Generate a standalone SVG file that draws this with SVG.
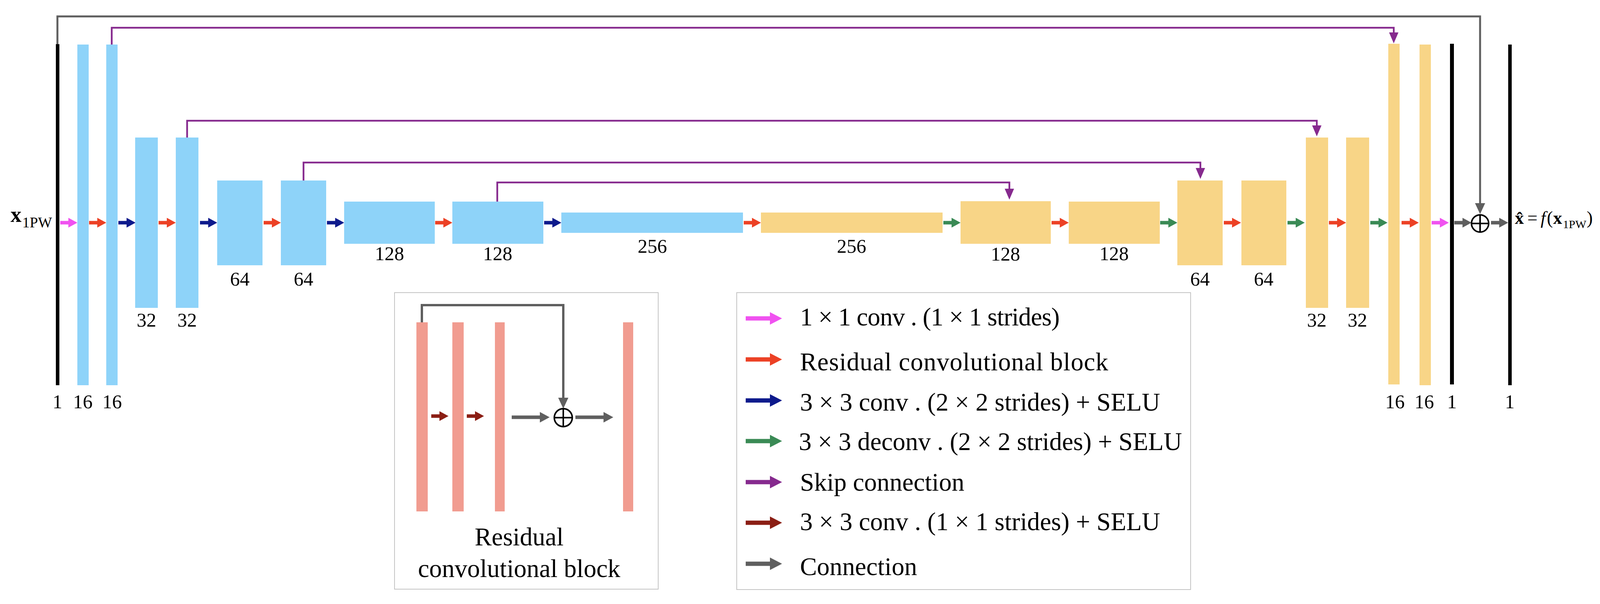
<svg xmlns="http://www.w3.org/2000/svg" xmlns:xlink="http://www.w3.org/1999/xlink" width="4176" height="1546" viewBox="0 0 4176 1546">
<style>
.blue{fill:#8ED3F9}
.yel{fill:#F8D587}
.res{fill:#F19C90}
.blk{fill:#000}
.lbl{font-family:"Liberation Serif",serif;font-size:50px;text-anchor:middle;fill:#000}
.leg{font-family:"Liberation Serif",serif;font-size:65px;fill:#000}
.mth{font-family:"Liberation Serif",serif;font-size:56px;fill:#000}
.sub{font-family:"Liberation Serif",serif;font-size:38px;fill:#000}
.omth{font-family:"Liberation Serif",serif;font-size:46px;fill:#000}
.osub{font-family:"Liberation Serif",serif;font-size:30px;fill:#000}
.box{fill:#fff;stroke:#C4C4C4;stroke-width:2}
.skip{fill:none;stroke:#862A8E;stroke-width:4.5;marker-end:url(#mp)}
.conn{fill:none;stroke:#5F5F5F;stroke-width:5;marker-end:url(#mg)}
.pink{fill:#F052F0}.red{fill:#EC4125}.navy{fill:#0D1A8C}.green{fill:#3A8A55}.purp{fill:#862A8E}.dred{fill:#8B1E14}.gray{fill:#5F5F5F}
.oplus{fill:none;stroke:#000;stroke-width:4}
</style>
<defs>
<path id="ma" d="M0,-4.5 H21 V-12.5 L44,0 L21,12.5 V4.5 H0 Z"/>
<path id="la" d="M0,-5.5 H62 V-16 L93,0 L62,16 V5.5 H0 Z"/>
<path id="ga" d="M0,-4.5 H72 V-13.5 L97,0 L72,13.5 V4.5 H0 Z"/>
<marker id="mp" viewBox="0 0 28 24" refX="0" refY="12" markerWidth="28" markerHeight="24" markerUnits="userSpaceOnUse" orient="auto"><path d="M0,0 L28,12 L0,24 Z" fill="#862A8E"/></marker>
<marker id="mg" viewBox="0 0 28 26" refX="0" refY="13" markerWidth="28" markerHeight="26" markerUnits="userSpaceOnUse" orient="auto"><path d="M0,0 L28,13 L0,26 Z" fill="#5F5F5F"/></marker>
</defs>

<g id="connectors">
<polyline class="conn" points="147,114 147,42 3789,42 3789,520"/>
<polyline class="skip" points="286,114 286,71 3568,71 3568,83"/>
<polyline class="skip" points="479,352 479,309 3371,309 3371,321"/>
<polyline class="skip" points="777,462 777,416 3073,416 3073,430"/>
<polyline class="skip" points="1273,516 1273,467 2584,467 2584,483"/>
<use href="#ma" x="154" y="570" class="pink"/>
<use href="#ma" x="228" y="570" class="red"/>
<use href="#ma" x="303" y="570" class="navy"/>
<use href="#ma" x="406" y="570" class="red"/>
<use href="#ma" x="512" y="570" class="navy"/>
<use href="#ma" x="675" y="570" class="red"/>
<use href="#ma" x="837" y="570" class="navy"/>
<use href="#ma" x="1114" y="570" class="red"/>
<use href="#ma" x="1393" y="570" class="navy"/>
<use href="#ma" x="1904" y="570" class="red"/>
<use href="#ma" x="2415" y="570" class="green"/>
<use href="#ma" x="2692" y="570" class="red"/>
<use href="#ma" x="2970" y="570" class="green"/>
<use href="#ma" x="3133" y="570" class="red"/>
<use href="#ma" x="3296" y="570" class="green"/>
<use href="#ma" x="3402" y="570" class="red"/>
<use href="#ma" x="3508" y="570" class="green"/>
<use href="#ma" x="3588" y="570" class="red"/>
<use href="#ma" x="3665" y="570" class="pink"/>
<use href="#ma" x="3723" y="570" class="gray"/>
<use href="#ma" x="3817" y="570" class="gray"/>
</g>

<g id="input">
<rect class="blk" x="143" y="113" width="9" height="873"/>
<text class="lbl" x="147" y="1045">1</text>
<text class="mth" x="27" y="568" font-weight="bold">x</text>
<text class="sub" x="57" y="582">1PW</text>
</g>
<g id="enc16a"><rect class="blue" x="198" y="114" width="29" height="872"/><text class="lbl" x="212" y="1045">16</text></g>
<g id="enc16b"><rect class="blue" x="272" y="114" width="29" height="872"/><text class="lbl" x="287" y="1045">16</text></g>
<g id="enc32a"><rect class="blue" x="346" y="352" width="58" height="436"/><text class="lbl" x="375" y="836">32</text></g>
<g id="enc32b"><rect class="blue" x="450" y="352" width="58" height="436"/><text class="lbl" x="479" y="836">32</text></g>
<g id="enc64a"><rect class="blue" x="556" y="462" width="116" height="217"/><text class="lbl" x="614" y="731">64</text></g>
<g id="enc64b"><rect class="blue" x="719" y="462" width="116" height="217"/><text class="lbl" x="777" y="731">64</text></g>
<g id="enc128a"><rect class="blue" x="881" y="516" width="232" height="108"/><text class="lbl" x="997" y="666">128</text></g>
<g id="enc128b"><rect class="blue" x="1158" y="516" width="233" height="108"/><text class="lbl" x="1274" y="666">128</text></g>
<g id="enc256"><rect class="blue" x="1437" y="544" width="465" height="52"/><text class="lbl" x="1670" y="647">256</text></g>
<g id="dec256"><rect class="yel" x="1948" y="544" width="465" height="52"/><text class="lbl" x="2180" y="647">256</text></g>
<g id="dec128a"><rect class="yel" x="2459" y="515" width="231" height="109"/><text class="lbl" x="2574" y="667">128</text></g>
<g id="dec128b"><rect class="yel" x="2736" y="516" width="233" height="108"/><text class="lbl" x="2852" y="666">128</text></g>
<g id="dec64a"><rect class="yel" x="3014" y="462" width="116" height="217"/><text class="lbl" x="3072" y="731">64</text></g>
<g id="dec64b"><rect class="yel" x="3178" y="462" width="115" height="217"/><text class="lbl" x="3235" y="731">64</text></g>
<g id="dec32a"><rect class="yel" x="3343" y="352" width="57" height="436"/><text class="lbl" x="3371" y="836">32</text></g>
<g id="dec32b"><rect class="yel" x="3446" y="352" width="59" height="436"/><text class="lbl" x="3475" y="836">32</text></g>
<g id="dec16a"><rect class="yel" x="3554" y="112" width="29" height="872"/><text class="lbl" x="3571" y="1045">16</text></g>
<g id="dec16b"><rect class="yel" x="3634" y="114" width="29" height="872"/><text class="lbl" x="3646" y="1045">16</text></g>
<g id="out1"><rect class="blk" x="3712" y="112" width="10" height="872"/><text class="lbl" x="3717" y="1045">1</text></g>
<g id="add"><circle class="oplus" cx="3789" cy="572" r="22"/><path class="oplus" d="M3767,572 H3811 M3789,550 V594"/></g>
<g id="output">
<rect class="blk" x="3861" y="114" width="9" height="872"/>
<text class="lbl" x="3865" y="1045">1</text>
<text class="omth" x="3878" y="573" font-weight="bold">x̂</text>
<text class="omth" x="3910" y="573">=</text>
<text class="omth" x="3944" y="573" font-style="italic">f</text>
<text class="omth" x="3960" y="573">(</text>
<text class="omth" x="3976" y="573" font-weight="bold">x</text>
<text class="osub" x="4001" y="584">1PW</text>
<text class="omth" x="4062" y="573">)</text>
</g>

<g id="residual-block">
<rect class="box" x="1010" y="749" width="675" height="759"/>
<rect class="res" x="1066" y="825" width="29" height="484"/>
<rect class="res" x="1158" y="825" width="29" height="484"/>
<rect class="res" x="1267" y="825" width="25" height="484"/>
<rect class="res" x="1595" y="825" width="26" height="484"/>
<polyline fill="none" stroke="#5F5F5F" stroke-width="6" marker-end="url(#mg)" points="1080,825 1080,781 1442,781 1442,1018"/>
<use href="#ma" x="1104" y="1065" class="dred"/>
<use href="#ma" x="1195" y="1065" class="dred"/>
<use href="#ga" x="1310" y="1068" class="gray"/>
<use href="#ga" x="1473" y="1068" class="gray"/>
<circle class="oplus" cx="1442" cy="1069" r="23"/>
<path class="oplus" d="M1419,1069 H1465 M1442,1046 V1092"/>
<text class="leg" x="1329" y="1396" text-anchor="middle" font-size="66">Residual</text>
<text class="leg" x="1329" y="1477" text-anchor="middle">convolutional block</text>
</g>

<g id="legend">
<rect class="box" x="1886" y="749" width="1162" height="760"/>
<use href="#la" x="1909" y="815" class="pink"/>
<use href="#la" x="1909" y="920" class="red"/>
<use href="#la" x="1909" y="1025" class="navy"/>
<use href="#la" x="1909" y="1129" class="green"/>
<use href="#la" x="1909" y="1234" class="purp"/>
<use href="#la" x="1909" y="1338" class="dred"/>
<use href="#la" x="1909" y="1443" class="gray"/>
<text class="leg" x="2048" y="833" textLength="665" lengthAdjust="spacing">1 × 1 conv . (1 × 1 strides)</text>
<text class="leg" x="2048" y="948" textLength="789" lengthAdjust="spacing">Residual convolutional block</text>
<text class="leg" x="2048" y="1051" textLength="922" lengthAdjust="spacing">3 × 3 conv . (2 × 2 strides) + SELU</text>
<text class="leg" x="2045" y="1152" textLength="981" lengthAdjust="spacing">3 × 3 deconv . (2 × 2 strides) + SELU</text>
<text class="leg" x="2048" y="1256">Skip connection</text>
<text class="leg" x="2048" y="1357" textLength="922" lengthAdjust="spacing">3 × 3 conv . (1 × 1 strides) + SELU</text>
<text class="leg" x="2048" y="1472">Connection</text>
</g>
</svg>
